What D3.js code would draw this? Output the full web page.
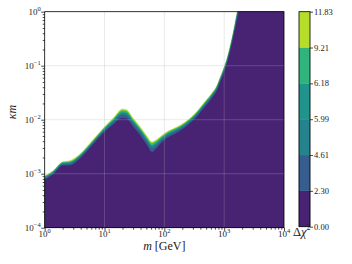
<!DOCTYPE html>
<html>
<head>
<meta charset="utf-8">
<script src="https://cdn.jsdelivr.net/npm/d3@7"></script>
<style>
  body { margin: 0; background: #fff; }
  svg { display: block; }
  text { font-family: "Liberation Serif", "DejaVu Serif", serif; fill: #1a1a1a; }
</style>
</head>
<body>
<div id="chart"></div>
<script>
// contour levels of the Δχ² map
const levels = [0, 2.30, 4.61, 5.99, 6.18, 9.21, 11.83];
const levelLabels = ["0.00", "2.30", "4.61", "5.99", "6.18", "9.21", "11.83"];

// masses m [GeV] where the contour edges were read
const masses = [1, 1.4, 2, 2.6, 4, 6.3, 10, 14, 20, 23, 30, 40, 50, 62, 71, 89, 112, 158,
  224, 288, 372, 479, 617, 759, 851, 977, 1096, 1259, 1514, 1660, 2000, 10000];

// log10(κm) of each contour edge, per mass (values above 0 run off the top)
const edge230 = [-3.11, -3.01, -2.85, -2.85, -2.71, -2.47, -2.23, -2.09, -1.97, -1.98, -2.13, -2.30,
  -2.46, -2.60, -2.55, -2.43, -2.34, -2.25, -2.14, -2.04, -1.91, -1.76, -1.61, -1.46, -1.32, -1.15,
  -0.99, -0.74, -0.34, -0.13, 0.3, 0.3];
const edge461 = [-3.09, -2.99, -2.83, -2.82, -2.68, -2.44, -2.20, -2.05, -1.91, -1.92, -2.07, -2.24,
  -2.40, -2.53, -2.49, -2.39, -2.30, -2.21, -2.11, -2.01, -1.88, -1.73, -1.58, -1.43, -1.29, -1.12,
  -0.96, -0.71, -0.30, -0.08, 0.3, 0.3];
const edge599 = [-3.07, -2.97, -2.81, -2.80, -2.66, -2.42, -2.17, -2.02, -1.87, -1.88, -2.04, -2.21,
  -2.36, -2.49, -2.45, -2.36, -2.27, -2.19, -2.08, -1.98, -1.85, -1.70, -1.55, -1.40, -1.26, -1.09,
  -0.93, -0.68, -0.27, -0.04, 0.3, 0.3];
const edge618 = [-3.07, -2.97, -2.81, -2.80, -2.66, -2.42, -2.17, -2.02, -1.87, -1.88, -2.03, -2.20,
  -2.36, -2.48, -2.45, -2.35, -2.27, -2.18, -2.08, -1.98, -1.85, -1.70, -1.55, -1.40, -1.26, -1.09,
  -0.93, -0.68, -0.27, -0.04, 0.3, 0.3];
const edge921 = [-3.05, -2.95, -2.79, -2.78, -2.64, -2.40, -2.15, -1.99, -1.83, -1.84, -2.00, -2.17,
  -2.32, -2.44, -2.41, -2.32, -2.24, -2.16, -2.06, -1.96, -1.83, -1.68, -1.53, -1.38, -1.24, -1.07,
  -0.91, -0.66, -0.24, -0.01, 0.3, 0.3];
const edge1183 = [-3.04, -2.94, -2.78, -2.76, -2.62, -2.38, -2.13, -1.97, -1.80, -1.81, -1.97, -2.14,
  -2.29, -2.41, -2.38, -2.30, -2.22, -2.14, -2.04, -1.94, -1.81, -1.66, -1.51, -1.36, -1.22, -1.05,
  -0.89, -0.64, -0.22, 0.02, 0.3, 0.3];

// tick exponents
const xTickExp = [0, 1, 2, 3, 4];
const yTickExp = [-4, -3, -2, -1, 0];

const W = 352, H = 264;
const plot = { left: 44.7, right: 284, top: 11.7, bottom: 227.7 };
const cbar = { left: 299, right: 310, top: 11.7, bottom: 226.7 };

const svg = d3.select("#chart").append("svg")
  .attr("width", W).attr("height", H);

const x = d3.scaleLog().domain([1, 1e4]).range([plot.left, plot.right]);
const y = d3.scaleLog().domain([1e-4, 1]).range([plot.bottom, plot.top]);

const topLevel = levels[levels.length - 1];
const bandColor = i => d3.interpolateViridis((levels[i] + levels[i + 1]) / 2 / topLevel);

svg.append("clipPath").attr("id", "clip")
  .append("rect")
  .attr("x", plot.left).attr("y", plot.top)
  .attr("width", plot.right - plot.left).attr("height", plot.bottom - plot.top);

// filled contours, outermost first
const edges = [edge230, edge461, edge599, edge618, edge921, edge1183];
const gFill = svg.append("g").attr("clip-path", "url(#clip)");
for (let i = edges.length - 1; i >= 0; i--) {
  const pts = masses.map((m, j) => [m, Math.pow(10, edges[i][j])]);
  gFill.append("path")
    .datum(pts)
    .attr("fill", bandColor(i))
    .attr("stroke", bandColor(i))
    .attr("stroke-width", 0.3)
    .attr("d", d3.area()
      .x(d => x(d[0]))
      .y0(plot.bottom + 2)
      .y1(d => y(d[1]))
      .curve(d3.curveMonotoneX));
}

// grid
const gGrid = svg.append("g")
  .attr("stroke", "#b0b0b0").attr("stroke-opacity", 0.35).attr("stroke-width", 0.8);
gGrid.selectAll("line.gx")
  .data(xTickExp.slice(1, -1))
  .join("line")
  .attr("x1", e => x(Math.pow(10, e))).attr("x2", e => x(Math.pow(10, e)))
  .attr("y1", plot.top).attr("y2", plot.bottom);
gGrid.selectAll("line.gy")
  .data(yTickExp.slice(1, -1))
  .join("line")
  .attr("class", "gy")
  .attr("y1", e => y(Math.pow(10, e))).attr("y2", e => y(Math.pow(10, e)))
  .attr("x1", plot.left).attr("x2", plot.right);

// axes: major and minor ticks
const xMajor = xTickExp.map(e => Math.pow(10, e));
const yMajor = yTickExp.map(e => Math.pow(10, e));
const xMinor = x.ticks().filter(v => !xMajor.some(t => Math.abs(t - v) / t < 1e-9));
const yMinor = y.ticks().filter(v => !yMajor.some(t => Math.abs(t - v) / t < 1e-9));

function styleAxis(g) {
  g.select(".domain").remove();
  g.selectAll("line").attr("stroke", "#000").attr("stroke-width", 0.7);
  g.selectAll("text").remove();
}
svg.append("g").attr("transform", `translate(0,${plot.bottom})`)
  .call(d3.axisBottom(x).tickValues(xMajor).tickSize(3.5).tickFormat("")).call(styleAxis);
svg.append("g").attr("transform", `translate(0,${plot.bottom})`)
  .call(d3.axisBottom(x).tickValues(xMinor).tickSize(2).tickFormat("")).call(styleAxis);
svg.append("g").attr("transform", `translate(${plot.left},0)`)
  .call(d3.axisLeft(y).tickValues(yMajor).tickSize(3.5).tickFormat("")).call(styleAxis);
svg.append("g").attr("transform", `translate(${plot.left},0)`)
  .call(d3.axisLeft(y).tickValues(yMinor).tickSize(2).tickFormat("")).call(styleAxis);

// frame
svg.append("rect")
  .attr("x", plot.left).attr("y", plot.top)
  .attr("width", plot.right - plot.left).attr("height", plot.bottom - plot.top)
  .attr("fill", "none").attr("stroke", "#000").attr("stroke-width", 0.8);

// tick labels 10^n
function powerLabel(sel, e) {
  sel.append("tspan").text("10");
  sel.append("tspan").attr("dy", -4).attr("font-size", 6.5)
    .text(e < 0 ? "\u2212" + (-e) : String(e));
}
svg.selectAll("text.xt")
  .data(xTickExp)
  .join("text")
  .attr("class", "xt")
  .attr("x", e => x(Math.pow(10, e)))
  .attr("y", plot.bottom + 9)
  .attr("text-anchor", "middle")
  .attr("font-size", 9)
  .each(function (e) { powerLabel(d3.select(this), e); });
svg.selectAll("text.yt")
  .data(yTickExp)
  .join("text")
  .attr("class", "yt")
  .attr("x", plot.left - 4)
  .attr("y", e => y(Math.pow(10, e)) + 3)
  .attr("text-anchor", "end")
  .attr("font-size", 9)
  .each(function (e) { powerLabel(d3.select(this), e); });

// axis titles
const xTitle = svg.append("text")
  .attr("x", (plot.left + plot.right) / 2).attr("y", 250)
  .attr("text-anchor", "middle").attr("font-size", 12);
xTitle.append("tspan").attr("font-style", "italic").text("m");
xTitle.append("tspan").text(" [GeV]");

const yTitle = svg.append("text")
  .attr("transform", `translate(16,112) rotate(-90)`)
  .attr("text-anchor", "middle").attr("font-size", 12)
  .attr("font-style", "italic");
yTitle.append("tspan").text("κm");

// colorbar
const c = d3.scaleLinear().domain([0, levels.length - 1]).range([cbar.bottom, cbar.top]);
svg.append("g").selectAll("rect")
  .data(d3.range(levels.length - 1))
  .join("rect")
  .attr("x", cbar.left).attr("width", cbar.right - cbar.left)
  .attr("y", i => c(i + 1)).attr("height", i => c(i) - c(i + 1))
  .attr("fill", i => bandColor(i))
  .attr("stroke", i => bandColor(i)).attr("stroke-width", 0.3);
svg.append("rect")
  .attr("x", cbar.left).attr("y", cbar.top)
  .attr("width", cbar.right - cbar.left).attr("height", cbar.bottom - cbar.top)
  .attr("fill", "none").attr("stroke", "#000").attr("stroke-width", 0.8);
svg.append("g").attr("transform", `translate(${cbar.right},0)`)
  .call(d3.axisRight(c).tickValues(d3.range(levels.length)).tickSize(3)
    .tickFormat(i => levelLabels[i]))
  .call(g => {
    g.select(".domain").remove();
    g.selectAll("line").attr("stroke", "#000").attr("stroke-width", 0.7);
    g.selectAll("text")
      .attr("x", 4).attr("dy", "0.3em")
      .attr("font-size", 8.5)
      .attr("font-family", "Liberation Serif, serif")
      .attr("fill", "#1a1a1a");
  });

const cTitle = svg.append("text")
  .attr("x", 293).attr("y", 236).attr("font-size", 12.5);
cTitle.append("tspan").text("Δ");
cTitle.append("tspan").attr("font-style", "italic").text("χ");
cTitle.append("tspan").attr("dy", -6).attr("font-size", 8).text("2");
</script>
</body>
</html>
